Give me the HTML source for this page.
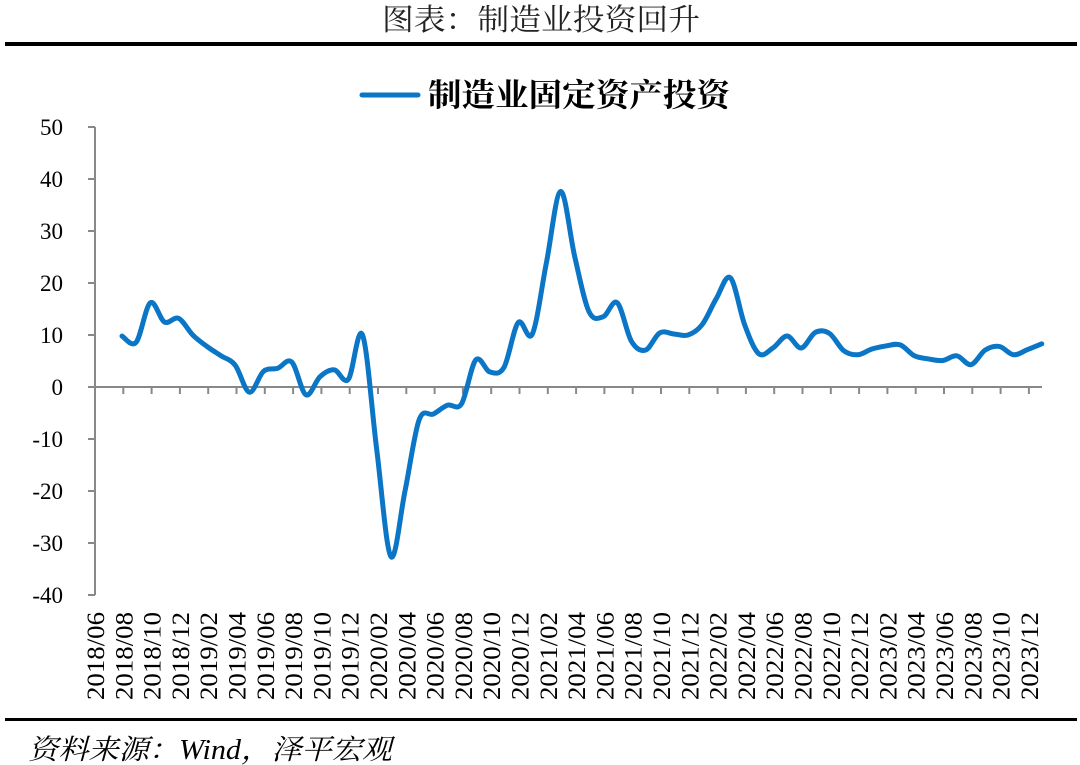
<!DOCTYPE html>
<html><head><meta charset="utf-8"><style>
body{margin:0;background:#fff;}
svg{display:block;}
</style></head><body>
<svg width="1080" height="765" viewBox="0 0 1080 765" xmlns="http://www.w3.org/2000/svg">
<text x="541" y="30" text-anchor="middle" font-family="'Liberation Serif','Noto Serif CJK SC',serif" font-size="30" fill="#222" textLength="318" lengthAdjust="spacingAndGlyphs">图表：制造业投资回升</text>
<rect x="5" y="42" width="1072" height="4" fill="#000"/>
<line x1="362" y1="95" x2="418" y2="95" stroke="#0b75c6" stroke-width="5" stroke-linecap="round"/>
<text x="428" y="106" font-family="'Liberation Serif','Noto Serif CJK SC',serif" font-weight="bold" font-size="32" fill="#000" textLength="302" lengthAdjust="spacingAndGlyphs">制造业固定资产投资</text>
<g id="axes"></g>
<path id="series" fill="none" stroke="#0b75c6" stroke-width="5" stroke-linejoin="round" stroke-linecap="round"/>
<rect x="5" y="718" width="1072" height="3" fill="#000"/>
<text x="28" y="759" font-family="'Liberation Serif','Noto Serif CJK SC',serif" font-style="italic" font-size="28" fill="#000" textLength="364" lengthAdjust="spacingAndGlyphs">资料来源：Wind，泽平宏观</text>
</svg>
<script>
const tickLabels = [50,40,30,20,10,0,-10,-20,-30,-40];
const xLabels = ["2018/06","2018/08","2018/10","2018/12","2019/02","2019/04","2019/06","2019/08","2019/10","2019/12","2020/02","2020/04","2020/06","2020/08","2020/10","2020/12","2021/02","2021/04","2021/06","2021/08","2021/10","2021/12","2022/02","2022/04","2022/06","2022/08","2022/10","2022/12","2023/02","2023/04","2023/06","2023/08","2023/10","2023/12"];
const values = [9.8,8.6,16.2,12.5,13.2,10.0,7.8,6.0,4.2,-1.0,3.0,3.6,4.8,-1.5,2.0,3.3,1.5,10.0,-12,-32.6,-20,-6.3,-5.2,-3.5,-3.2,5.2,2.9,3.8,12.4,10.2,24,37.6,25,14.5,13.5,16.2,8.8,7.1,10.4,10.2,10.0,12,17,21,12,6.4,7.5,9.8,7.5,10.5,10.3,7.0,6.2,7.3,7.9,8.1,6.0,5.4,5.1,6.0,4.3,7.1,7.8,6.2,7.2,8.3];

const NS='http://www.w3.org/2000/svg';
const X0=95, X1=1042, Y0=127, Y1=595, YMAX=50, YMIN=-40;
const labelStep=28.3, pointStep=14.15, pointStart=122;
function yScale(v){return Y0+(YMAX-v)/(YMAX-YMIN)*(Y1-Y0);}
function xLabel(j){return X0+labelStep*j;}
function xPoint(k){return pointStart+pointStep*k;}
const axes=document.getElementById('axes');
function mk(tag,attrs){const e=document.createElementNS(NS,tag);for(const k in attrs)e.setAttribute(k,attrs[k]);axes.appendChild(e);return e;}
const yAxis=mk('line',{x1:X0,y1:Y0,x2:X0,y2:Y1,stroke:'#888','stroke-width':2});


tickLabels.forEach(v=>{
  const y=yScale(v);
  const t=mk('line',{x1:X0-7,y1:y,x2:X0,y2:y,stroke:'#888','stroke-width':2});
  
  
  const tx=mk('text',{x:63,y:y+8,'text-anchor':'end','font-family':"'Liberation Serif',serif",'font-size':23,fill:'#000'});
  tx.textContent=v;
  
  
});
const y0=yScale(0);
const xAxis=mk('line',{x1:X0,y1:y0,x2:X1,y2:y0,stroke:'#888','stroke-width':2});


xLabels.forEach((s,j)=>{
  const x=xLabel(j);
  if(j>0){
    const t=mk('line',{x1:x,y1:y0,x2:x,y2:y0+7,stroke:'#888','stroke-width':2});
    
    
  }
  const tx=mk('text',{x:0,y:0,'text-anchor':'end',transform:`translate(${x+9},612) rotate(-90)`,'font-family':"'Liberation Serif',serif",'font-size':25,fill:'#000',textLength:88,lengthAdjust:'spacingAndGlyphs'});
  tx.textContent=s;
  
  
});
const pts=values.map((v,k)=>[xPoint(k),yScale(v)]);
let d=`M${pts[0][0]},${pts[0][1]}`;
for(let i=0;i<pts.length-1;i++){
  const p0=pts[Math.max(0,i-1)],p1=pts[i],p2=pts[i+1],p3=pts[Math.min(pts.length-1,i+2)];
  const c1=[p1[0]+(p2[0]-p0[0])/6,p1[1]+(p2[1]-p0[1])/6];
  const c2=[p2[0]-(p3[0]-p1[0])/6,p2[1]-(p3[1]-p1[1])/6];
  d+=` C${c1[0]},${c1[1]} ${c2[0]},${c2[1]} ${p2[0]},${p2[1]}`;
}
document.getElementById('series').setAttribute('d',d);
</script>
</body></html>
